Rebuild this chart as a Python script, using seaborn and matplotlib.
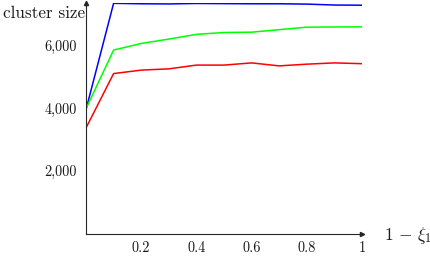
import matplotlib
matplotlib.use("Agg")
import matplotlib.pyplot as plt
import seaborn as sns
import pandas as pd
from matplotlib.ticker import FuncFormatter, FixedLocator

x_vals = [0.0, 0.1, 0.2, 0.3, 0.4, 0.5, 0.6, 0.7, 0.8, 0.9, 1.0]
blue_vals = [3950, 7340, 7325, 7320, 7335, 7330, 7325, 7325, 7315, 7285, 7280]
green_vals = [3980, 5850, 6060, 6200, 6350, 6410, 6420, 6500, 6580, 6585, 6590]
red_vals = [3365, 5100, 5210, 5250, 5370, 5370, 5440, 5345, 5400, 5440, 5415]
series_names = ["blue", "green", "red"]
series_colors = ["#0000ff", "#00ff00", "#ff0000"]
x_ticks = [0.2, 0.4, 0.6, 0.8, 1.0]
x_tick_labels = ["0.2", "0.4", "0.6", "0.8", "1"]
y_ticks = [2000, 4000, 6000]

sns.set_style("white")
plt.rcParams["font.family"] = ["cmr10", "DejaVu Serif"]
plt.rcParams["mathtext.fontset"] = "cm"
plt.rcParams["axes.unicode_minus"] = False

rows = []
for name, vals in zip(series_names, [blue_vals, green_vals, red_vals]):
    for xv, yv in zip(x_vals, vals):
        rows.append({"x": xv, "y": yv, "s": name})
df = pd.DataFrame(rows)

fig = plt.figure(figsize=(4.31, 2.56), dpi=100)
ax = fig.add_axes([86 / 431, 22.5 / 256, (362 - 86) / 431, (233.5 - 3) / 256])
sns.lineplot(data=df, x="x", y="y", hue="s", palette=dict(zip(series_names, series_colors)),
             hue_order=series_names, linewidth=1.1, legend=False, ax=ax)
ax.set_xlim(0, 1)
ax.set_ylim(0, 7350)
for side in ["top", "right"]:
    ax.spines[side].set_visible(False)
for side in ["left", "bottom"]:
    ax.spines[side].set_color("0.15")
    ax.spines[side].set_linewidth(0.8)
ax.xaxis.set_major_locator(FixedLocator(x_ticks))
ax.set_xticklabels(x_tick_labels)
ax.yaxis.set_major_locator(FixedLocator(y_ticks))
ax.yaxis.set_major_formatter(FuncFormatter(lambda v, p: "{:,}".format(int(v))))
ax.tick_params(axis="both", direction="inout", length=5, width=0.6, color="0.6",
               labelsize=10.3, labelcolor="0.1")
ax.tick_params(axis="y", pad=4)
ax.tick_params(axis="x", pad=3)
ax.set_xlabel("")
ax.set_ylabel("")
ax.plot(1, 0, ">", color="0.15", markersize=3, transform=ax.get_yaxis_transform(), clip_on=False)
ax.plot(0, 1, "^", color="0.15", markersize=3, transform=ax.get_xaxis_transform(), clip_on=False)
fig.text(44 / 431, 1 - 13 / 256, "cluster size", fontsize=12.3, ha="center", va="center", color="0.1")
fig.text(384 / 431, 1 - 236 / 256, r"$1\,-\,\xi_1$", fontsize=12.5, ha="left", va="center", color="0.1")
fig.savefig("out.png", dpi=100)
